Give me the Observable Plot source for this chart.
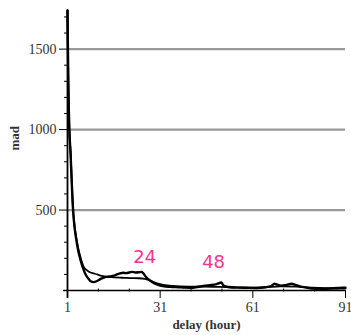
<!DOCTYPE html>
<html>
<head>
<meta charset="utf-8">
<script src="https://cdn.jsdelivr.net/npm/d3@7"></script>
<script src="https://cdn.jsdelivr.net/npm/@observablehq/plot@0.6"></script>
<style>
  html, body { margin: 0; padding: 0; background: #fff; }
  #chart svg { display: block; }
</style>
</head>
<body>
<div id="chart"></div>
<script>
// Observed series (delay in hours, mad)
const obsX = [1,1.1,1.3,1.6,2,2.4,2.8,3.3,3.9,4.5,5,5.5,6,6.5,7,7.5,8,8.5,9.5,10.5,11.7,13,14,15,16,17,18,19,20,21,22,23,24,25,25.5,26.5,27.5,29,31,33,35,37,39,41,43,45,47,49,50,50.8,51.5,53,56,59,62,65,67,68,69,70,72,73.5,75,77,79,81,84,87,89,91];
const obsY = [1740,1550,1250,1000,850,660,500,390,311,245,205,170,140,115,95,80,68,58,52,58,72,82,86,88,92,100,106,110,108,112,116,112,113,116,108,82,65,45,30,24,22,20,18,17,22,28,33,38,45,50,30,22,18,17,16,20,28,42,36,30,35,42,34,22,15,11,10,14,16,18];
// Smoothed / fitted series
const fitX = [1,1.1,1.3,1.6,2,2.4,2.8,3.3,3.9,4.5,5,5.6,6.3,7.3,8.4,9.5,10.6,11.7,13,14,16,18,20,22,24,26,28,30,32,35,40,45,50,55,60,65,70,75,80,85,91];
const fitY = [1740,1550,1250,1000,860,670,510,400,320,260,220,180,145,125,112,106,100,93,88,84,82,80,78,77,76,72,60,45,35,28,24,24,22,20,18,20,26,24,18,14,12];
// Axes
const xMajorTicks = [1,31,61,91];
const xMinorTicks = [11,21,41,51,71,81];
const yMajorTicks = [500,1000,1500];
const yMinorTicks = [100,200,300,400,600,700,800,900,1100,1200,1300,1400,1600,1700];
const xTitle = "delay (hour)";
const yTitle = "mad";
// Annotations
const annotText = ["24","48"];
const annotX = [26, 48.3];
const annotY = [208, 177];

const obs = obsX.map((x,i) => ({x, y: obsY[i]}));
const fit = fitX.map((x,i) => ({x, y: fitY[i]}));
const annots = annotText.map((t,i) => ({t, x: annotX[i], y: annotY[i]}));

const serif = "'Liberation Serif', 'DejaVu Serif', serif";

const chart = Plot.plot({
  width: 351,
  height: 335,
  marginLeft: 67,
  marginRight: 6,
  marginTop: 10,
  marginBottom: 45,
  style: {fontFamily: serif, background: "#fff"},
  x: {domain: [1, 91], axis: null},
  y: {domain: [0, 1740], axis: null},
  marks: [
    Plot.ruleY(yMajorTicks, {stroke: "#999", strokeWidth: 2.2}),
    Plot.ruleY([0], {stroke: "#000", strokeWidth: 1.3, insetLeft: -4}),
    Plot.ruleX([1], {stroke: "#000", strokeWidth: 1.8, insetBottom: -8}),
    Plot.axisY({ticks: yMajorTicks, tickSize: 8, tickPadding: 3, fontSize: 14, fontFamily: serif, fill: "#333", stroke: "#000", label: null, tickFormat: d => String(d)}),
    Plot.axisY({ticks: yMinorTicks, tickSize: 3, tickFormat: () => "", label: null, stroke: "#000"}),
    Plot.axisX({ticks: xMajorTicks, tickSize: 8, tickPadding: 4, fontSize: 14, fontFamily: serif, fill: "#333", stroke: "#000", label: null, tickFormat: d => String(d)}),
    Plot.axisX({ticks: xMinorTicks, tickSize: 3, tickFormat: () => "", label: null, stroke: "#000", dy: -1.5}),
    Plot.line(fit, {x: "x", y: "y", stroke: "#000", strokeWidth: 1.8, curve: "monotone-x"}),
    Plot.line(obs, {x: "x", y: "y", stroke: "#000", strokeWidth: 2.4, curve: "monotone-x"}),
    Plot.text(annots, {x: "x", y: "y", text: "t", fill: "#f5338f", fontSize: 18, fontFamily: "'DejaVu Sans', sans-serif"}),
    Plot.text([xTitle], {frameAnchor: "bottom", dy: 38, fontSize: 13, fontWeight: "bold", fontFamily: serif, fill: "#333"}),
    Plot.text([yTitle], {frameAnchor: "left", dx: -53, rotate: -90, fontSize: 13, fontWeight: "bold", fontFamily: serif, fill: "#333"})
  ]
});
document.getElementById("chart").append(chart);
</script>
</body>
</html>
